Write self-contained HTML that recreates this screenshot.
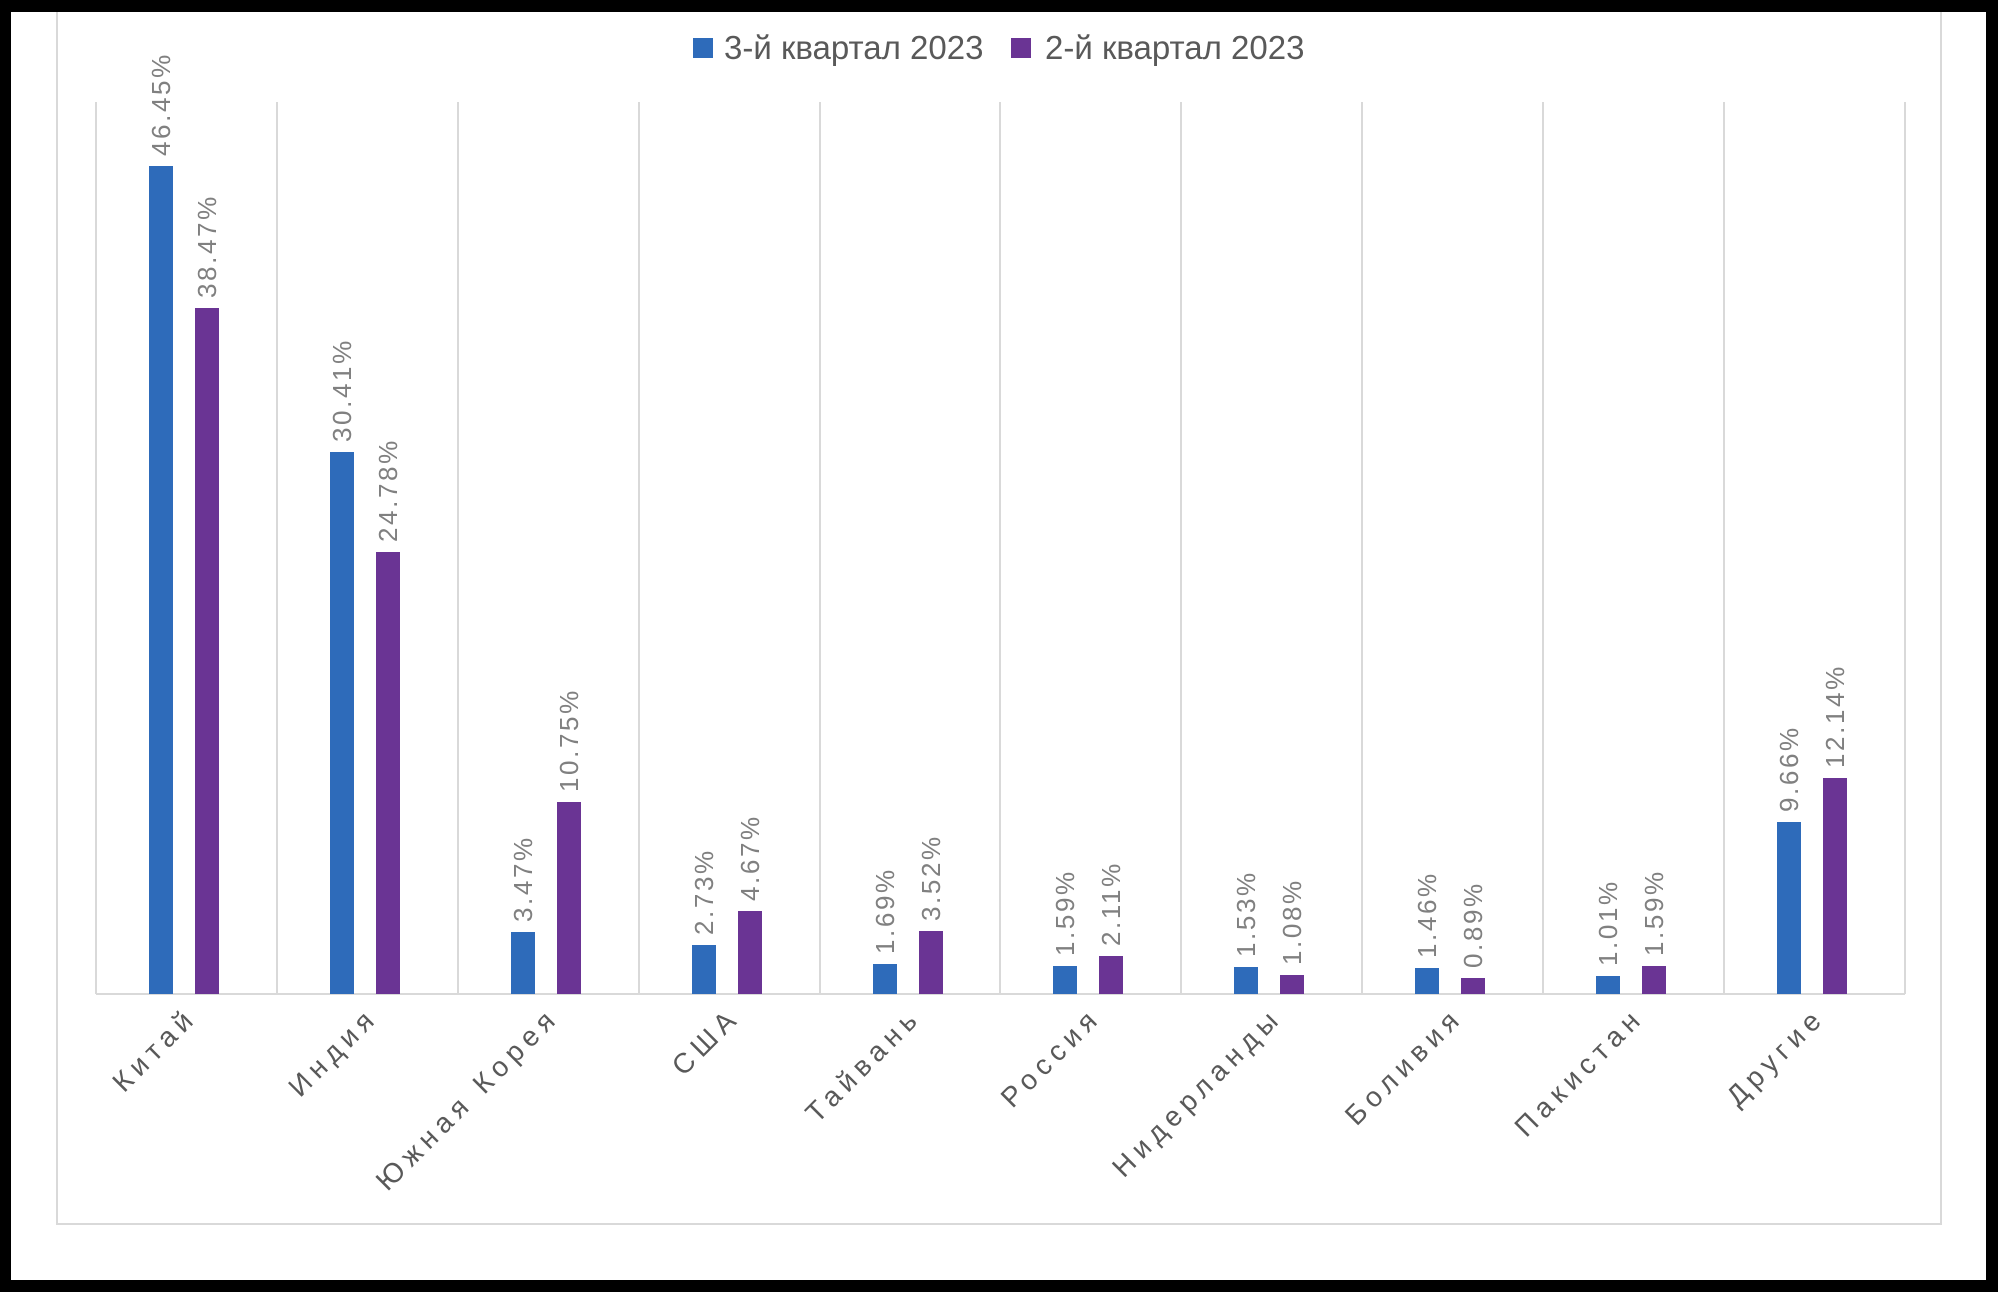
<!DOCTYPE html>
<html><head><meta charset="utf-8"><style>
html,body{margin:0;padding:0;background:#fff;}
svg{display:block;font-family:"Liberation Sans","DejaVu Sans",sans-serif;}
.v{font-size:26px;fill:#808080;letter-spacing:2.6px;}
.c{font-size:28px;fill:#595959;letter-spacing:6px;}
.l{font-size:33px;fill:#595959;}
</style></head><body>
<svg width="2000" height="1296" viewBox="0 0 2000 1296" xmlns="http://www.w3.org/2000/svg">
<rect x="0" y="0" width="2000" height="1296" fill="#fff"/>
<rect x="57" y="6" width="1884" height="1218" fill="none" stroke="#d9d9d9" stroke-width="2"/>
<g stroke="#d9d9d9" stroke-width="2">
<line x1="96" y1="102" x2="96" y2="994"/><line x1="277" y1="102" x2="277" y2="994"/><line x1="458" y1="102" x2="458" y2="994"/><line x1="639" y1="102" x2="639" y2="994"/><line x1="820" y1="102" x2="820" y2="994"/><line x1="1000" y1="102" x2="1000" y2="994"/><line x1="1181" y1="102" x2="1181" y2="994"/><line x1="1362" y1="102" x2="1362" y2="994"/><line x1="1543" y1="102" x2="1543" y2="994"/><line x1="1724" y1="102" x2="1724" y2="994"/><line x1="1905" y1="102" x2="1905" y2="994"/>
<line x1="96" y1="994" x2="1905" y2="994"/>
</g>
<g fill="#2E6BBA">
<rect x="149" y="166" width="24" height="828"/><rect x="330" y="452" width="24" height="542"/><rect x="511" y="932" width="24" height="62"/><rect x="692" y="945" width="24" height="49"/><rect x="873" y="964" width="24" height="30"/><rect x="1053" y="966" width="24" height="28"/><rect x="1234" y="967" width="24" height="27"/><rect x="1415" y="968" width="24" height="26"/><rect x="1596" y="976" width="24" height="18"/><rect x="1777" y="822" width="24" height="172"/>
</g>
<g fill="#6A3494">
<rect x="195" y="308" width="24" height="686"/><rect x="376" y="552" width="24" height="442"/><rect x="557" y="802" width="24" height="192"/><rect x="738" y="911" width="24" height="83"/><rect x="919" y="931" width="24" height="63"/><rect x="1099" y="956" width="24" height="38"/><rect x="1280" y="975" width="24" height="19"/><rect x="1461" y="978" width="24" height="16"/><rect x="1642" y="966" width="24" height="28"/><rect x="1823" y="778" width="24" height="216"/>
</g>
<g class="v" dominant-baseline="central">
<text transform="translate(161,156) rotate(-90)">46.45%</text>
<text transform="translate(207,298) rotate(-90)">38.47%</text>
<text transform="translate(342,442) rotate(-90)">30.41%</text>
<text transform="translate(388,542) rotate(-90)">24.78%</text>
<text transform="translate(523,922) rotate(-90)">3.47%</text>
<text transform="translate(569,792) rotate(-90)">10.75%</text>
<text transform="translate(704,935) rotate(-90)">2.73%</text>
<text transform="translate(750,901) rotate(-90)">4.67%</text>
<text transform="translate(885,954) rotate(-90)">1.69%</text>
<text transform="translate(931,921) rotate(-90)">3.52%</text>
<text transform="translate(1065,956) rotate(-90)">1.59%</text>
<text transform="translate(1111,946) rotate(-90)">2.11%</text>
<text transform="translate(1246,957) rotate(-90)">1.53%</text>
<text transform="translate(1292,965) rotate(-90)">1.08%</text>
<text transform="translate(1427,958) rotate(-90)">1.46%</text>
<text transform="translate(1473,968) rotate(-90)">0.89%</text>
<text transform="translate(1608,966) rotate(-90)">1.01%</text>
<text transform="translate(1654,956) rotate(-90)">1.59%</text>
<text transform="translate(1789,812) rotate(-90)">9.66%</text>
<text transform="translate(1835,768) rotate(-90)">12.14%</text>
</g>
<g class="c" text-anchor="end" dominant-baseline="central">
<text transform="translate(192,1012) rotate(-45)">Китай</text>
<text transform="translate(373,1012) rotate(-45)">Индия</text>
<text transform="translate(554,1012) rotate(-45)">Южная Корея</text>
<text transform="translate(735,1012) rotate(-45)">США</text>
<text transform="translate(916,1012) rotate(-45)">Тайвань</text>
<text transform="translate(1096,1012) rotate(-45)">Россия</text>
<text transform="translate(1277,1012) rotate(-45)">Нидерланды</text>
<text transform="translate(1458,1012) rotate(-45)">Боливия</text>
<text transform="translate(1639,1012) rotate(-45)">Пакистан</text>
<text transform="translate(1820,1012) rotate(-45)">Другие</text>
</g>
<rect x="693" y="38" width="20" height="20" fill="#2E6BBA"/>
<text class="l" x="724" y="59">3-й квартал 2023</text>
<rect x="1011" y="38" width="20" height="20" fill="#6A3494"/>
<text class="l" x="1045" y="59">2-й квартал 2023</text>
<rect x="5" y="6" width="1987" height="1280" fill="none" stroke="#000" stroke-width="12"/>
</svg>
</body></html>
